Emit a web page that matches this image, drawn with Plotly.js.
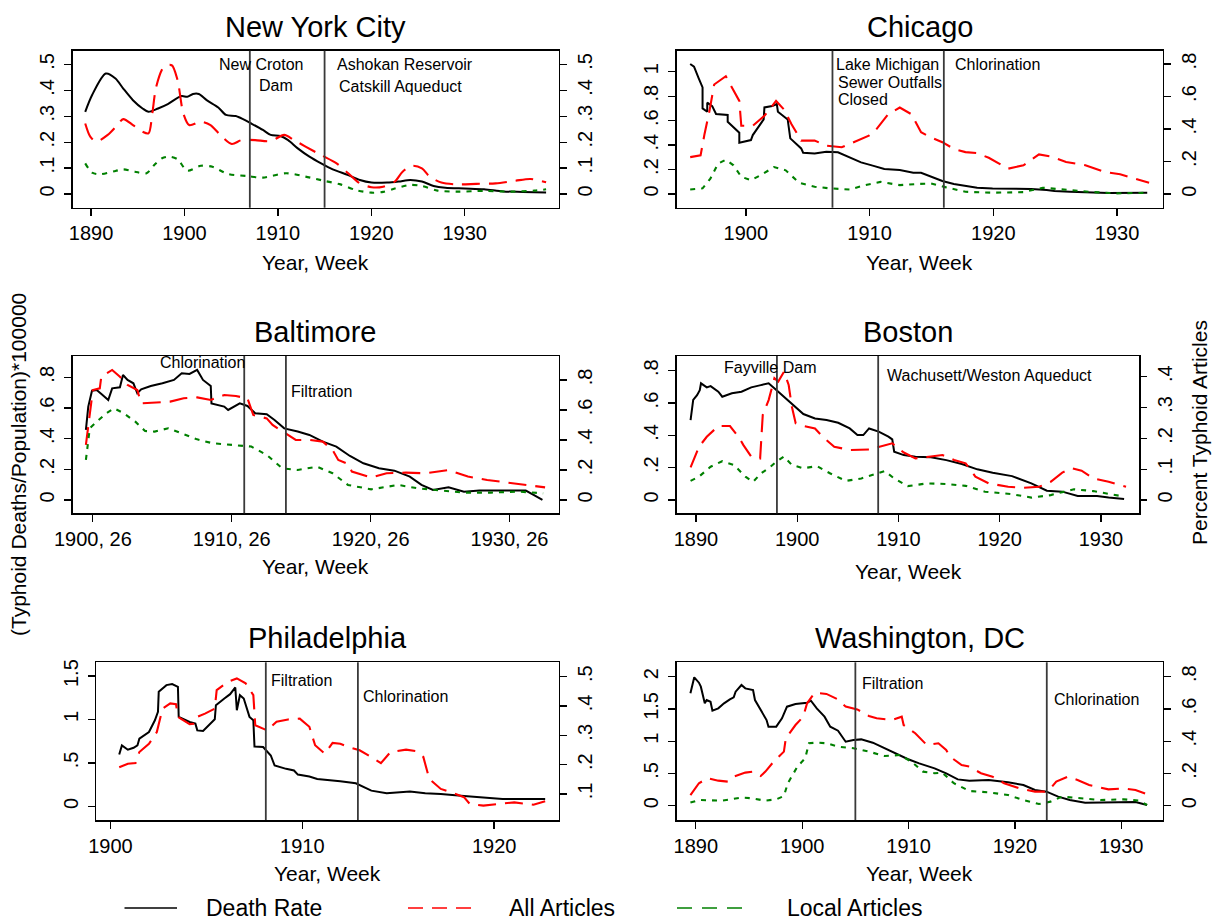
<!DOCTYPE html>
<html><head><meta charset="utf-8">
<script src="https://cdn.plot.ly/plotly-3.0.1.min.js"></script>
<style>body{margin:0;background:#fff}</style>
</head><body>
<div id="chart" style="width:1212px;height:922px"></div>
<script>
// ---------------- DATA ----------------
const nycDeathYear=[1889.38,1890.12,1891.58,1892.62,1893.45,1894.49,1895.52,1896.15,1897.18,1898.22,1899.68,1900.30,1900.92,1901.54,1902.38,1903.62,1904.45,1905.49,1906.32,1907.15,1908.40,1909.23,1910.27,1911.10,1912.13,1913.38,1914.63,1915.87,1917.53,1918.78,1920.02,1921.69,1922.93,1924.18,1925.42,1926.67,1927.92,1929.99,1932.07,1934.14,1936.22,1938.71];
const nycDeath=[.317,.382,.465,.446,.407,.362,.330,.317,.330,.347,.378,.375,.386,.386,.362,.334,.305,.301,.288,.272,.247,.228,.224,.208,.176,.144,.118,.095,.073,.054,.044,.044,.048,.054,.048,.031,.024,.021,.018,.010,.008,.006];
const nycAllYear=[1889.38,1889.92,1890.54,1891.79,1892.82,1893.45,1894.49,1895.52,1896.15,1896.56,1896.98,1897.81,1898.64,1899.26,1899.88,1900.51,1901.75,1902.79,1903.83,1905.07,1906.11,1907.57,1909.23,1910.68,1911.72,1912.96,1914.63,1916.29,1917.53,1918.78,1920.02,1921.27,1922.52,1923.35,1924.39,1925.42,1926.25,1927.50,1929.16,1931.24,1933.31,1935.39,1937.05,1938.71];
const nycAll=[.272,.221,.202,.228,.266,.289,.266,.240,.234,.311,.414,.491,.497,.440,.311,.266,.279,.266,.228,.193,.208,.208,.204,.228,.208,.183,.150,.118,.080,.041,.026,.028,.048,.086,.109,.099,.067,.044,.037,.039,.041,.051,.058,.045];
const nycLocalYear=[1889.38,1890.12,1890.96,1892.62,1893.45,1894.69,1895.94,1896.77,1897.60,1898.43,1899.26,1900.30,1901.75,1903.00,1904.66,1906.74,1908.40,1910.89,1912.96,1915.04,1916.70,1918.36,1920.02,1921.27,1922.52,1924.18,1925.42,1927.08,1929.16,1932.07,1934.98,1937.47,1938.71];
const nycLocal=[.118,.082,.076,.089,.095,.086,.080,.112,.138,.144,.134,.090,.109,.105,.077,.069,.063,.080,.067,.050,.037,.015,.005,.008,.021,.035,.031,.013,.009,.012,.009,.013,.018];

const chiDeathYear=[1895.50,1895.81,1896.19,1896.50,1896.50,1896.88,1896.88,1897.28,1897.59,1898.53,1898.53,1899.47,1899.47,1900.41,1900.56,1901.44,1901.50,1902.13,1902.50,1902.59,1903.38,1903.59,1904.47,1904.63,1905.56,1906.50,1907.44,1908.38,1909.31,1910.25,1911.19,1912.44,1913.53,1914.16,1914.94,1915.88,1916.81,1917.75,1918.69,1919.94,1921.50,1923.06,1924.31,1924.94,1926.19,1927.75,1929.31,1932.44];
const chiDeath=[1.063,1.041,.946,.872,.700,.673,.747,.719,.654,.646,.591,.501,.420,.441,.482,.610,.708,.719,.736,.673,.610,.455,.373,.338,.332,.346,.341,.300,.259,.232,.204,.196,.174,.174,.142,.106,.082,.068,.052,.046,.046,.041,.033,.025,.019,.011,.008,.011];
const chiAllYear=[1895.50,1896.34,1896.66,1897.06,1897.44,1898.38,1899.47,1899.63,1900.56,1901.50,1902.44,1903.06,1903.69,1904.47,1905.56,1906.50,1907.75,1908.69,1909.94,1910.56,1911.50,1912.44,1913.38,1914.16,1914.94,1915.88,1916.81,1917.75,1918.69,1919.63,1921.19,1922.44,1923.69,1924.63,1925.88,1927.44,1929.00,1930.25,1931.50,1932.59];
const chiAll=[.227,.238,.370,.512,.674,.725,.573,.420,.420,.481,.573,.522,.430,.329,.329,.298,.288,.319,.359,.400,.491,.532,.491,.380,.349,.319,.278,.258,.252,.223,.156,.177,.244,.231,.197,.177,.136,.122,.095,.069];
const chiLocalYear=[1895.50,1896.50,1897.13,1897.75,1898.38,1899.00,1899.63,1900.41,1901.19,1902.28,1903.22,1904.31,1905.56,1906.81,1908.38,1909.63,1910.88,1912.44,1913.69,1914.94,1916.19,1917.75,1919.94,1922.44,1924.00,1925.56,1927.75,1929.94,1932.44];
const chiLocal=[.028,.035,.095,.187,.211,.177,.106,.085,.116,.166,.146,.069,.045,.035,.028,.055,.075,.055,.061,.065,.041,.014,.008,.012,.039,.028,.014,.004,.008];

const balDeathYear=[1900.00,1900.17,1900.44,1900.78,1901.20,1901.61,1901.89,1902.45,1902.67,1903.00,1903.42,1903.70,1903.98,1904.67,1905.51,1906.34,1906.90,1907.46,1908.01,1908.43,1908.99,1909.04,1909.96,1910.24,1911.08,1911.63,1912.19,1913.02,1913.58,1914.28,1915.25,1916.09,1917.06,1918.03,1919.01,1919.98,1921.10,1922.21,1923.32,1924.16,1924.99,1926.11,1927.22,1928.33,1930.00,1931.67,1932.23,1932.87];
const balDeath=[.457,.609,.713,.717,.685,.652,.728,.735,.815,.783,.761,.696,.722,.743,.761,.783,.826,.822,.848,.783,.743,.630,.609,.587,.630,.613,.565,.559,.522,.467,.446,.424,.380,.348,.287,.239,.207,.191,.152,.098,.065,.083,.054,.061,.061,.061,.033,.000];
const balAllYear=[1900.00,1900.28,1900.50,1901.00,1901.11,1901.89,1902.45,1903.00,1903.70,1903.98,1904.95,1906.07,1907.04,1908.01,1908.99,1909.96,1910.80,1911.63,1912.05,1913.02,1913.44,1914.14,1915.11,1916.09,1917.06,1917.76,1918.17,1918.87,1919.15,1920.54,1921.65,1923.04,1924.44,1926.11,1927.50,1928.89,1930.28,1931.67,1933.06];
const balAll=[.367,.589,.733,.744,.822,.867,.822,.767,.733,.644,.649,.656,.678,.684,.667,.700,.693,.678,.567,.544,.500,.456,.400,.400,.389,.333,.267,.240,.189,.149,.178,.182,.178,.200,.156,.133,.118,.104,.084];
const balLocalYear=[1900.00,1900.28,1900.78,1901.47,1902.03,1902.73,1903.56,1904.26,1904.95,1905.93,1906.90,1908.01,1909.13,1910.52,1911.91,1913.02,1914.14,1915.25,1916.64,1917.76,1918.87,1920.54,1922.49,1923.88,1925.27,1927.22,1929.17,1931.12,1932.92];
const balLocal=[.267,.478,.522,.578,.611,.578,.522,.460,.456,.478,.444,.404,.378,.367,.356,.300,.211,.200,.222,.178,.100,.071,.100,.078,.067,.049,.049,.056,.044];

const bosDeathYear=[1889.47,1889.73,1890.11,1890.38,1890.50,1891.07,1891.45,1892.21,1892.60,1893.55,1894.50,1895.46,1896.41,1897.18,1897.94,1898.51,1899.47,1900.61,1901.76,1902.90,1904.05,1905.19,1905.95,1906.53,1907.10,1908.05,1909.01,1909.39,1909.58,1910.53,1911.68,1913.21,1914.73,1916.26,1917.79,1919.31,1921.22,1923.13,1924.66,1926.18,1927.71,1929.62,1930.76,1932.29];
const bosDeath=[.495,.619,.649,.680,.722,.697,.705,.670,.639,.660,.670,.697,.711,.722,.680,.649,.598,.532,.505,.495,.478,.443,.402,.402,.443,.423,.392,.375,.299,.278,.268,.264,.247,.223,.190,.169,.148,.103,.058,.052,.025,.025,.016,.006];
const bosAllYear=[1889.47,1890.31,1891.07,1892.21,1893.36,1894.31,1894.69,1895.46,1896.34,1896.41,1896.60,1897.18,1897.75,1898.13,1898.70,1899.16,1899.47,1899.85,1900.61,1901.76,1902.52,1903.66,1905.19,1907.10,1908.24,1909.39,1910.53,1911.68,1913.21,1914.35,1915.50,1916.64,1917.60,1918.93,1920.84,1922.37,1923.89,1925.04,1926.18,1927.14,1928.09,1929.24,1930.76,1932.48];
const bosAll=[.106,.173,.205,.240,.240,.200,.178,.141,.135,.173,.276,.324,.395,.384,.416,.373,.303,.249,.240,.232,.205,.173,.162,.164,.175,.184,.154,.135,.141,.146,.130,.119,.076,.054,.043,.040,.043,.059,.089,.103,.095,.070,.059,.043];
const bosLocalYear=[1889.47,1890.31,1891.45,1892.60,1893.74,1894.89,1895.65,1896.41,1897.37,1897.94,1898.70,1899.47,1900.61,1901.95,1903.28,1904.81,1906.34,1907.86,1908.63,1909.58,1910.92,1912.82,1914.73,1916.64,1918.55,1921.22,1923.13,1925.04,1927.33,1929.24,1932.29];
const bosLocal=[.062,.076,.108,.126,.114,.076,.059,.086,.108,.124,.141,.114,.103,.110,.086,.062,.070,.086,.094,.070,.045,.054,.052,.046,.027,.019,.008,.016,.035,.029,.011];

const phiDeathYear=[1900.46,1900.60,1900.91,1901.21,1901.41,1901.51,1902.01,1902.32,1902.48,1902.52,1902.92,1903.22,1903.52,1903.56,1904.13,1904.43,1904.53,1904.83,1905.44,1905.50,1905.94,1906.24,1906.51,1906.59,1906.75,1906.95,1907.25,1907.45,1907.51,1907.96,1908.36,1908.56,1909.16,1909.57,1909.77,1910.37,1910.78,1911.38,1911.98,1912.79,1913.60,1914.40,1915.61,1916.41,1917.22,1918.43,1919.44,1920.44,1921.65,1922.66];
const phiDeath=[.598,.702,.652,.675,.702,.779,.856,.991,1.088,1.319,1.396,1.408,1.377,1.030,.972,.953,.875,.868,1.003,1.165,1.242,1.292,1.369,1.107,1.280,1.242,1.030,.991,.690,.683,.586,.470,.432,.413,.366,.343,.316,.305,.289,.266,.181,.150,.170,.150,.143,.120,.104,.085,.085,.085];
const phiAllYear=[1900.46,1900.91,1901.31,1901.51,1902.01,1902.42,1902.72,1903.12,1903.42,1903.52,1904.13,1904.43,1904.53,1904.93,1905.44,1905.54,1906.14,1906.59,1907.05,1907.45,1907.55,1908.16,1908.66,1909.26,1909.87,1910.37,1910.67,1911.18,1911.58,1911.98,1912.39,1912.99,1913.60,1914.10,1914.60,1915.41,1915.91,1916.31,1916.62,1917.22,1917.72,1918.43,1918.73,1919.44,1920.24,1921.05,1922.05,1922.66];
const phiAll=[.191,.203,.205,.243,.271,.311,.391,.409,.406,.363,.338,.340,.363,.374,.391,.454,.483,.494,.477,.437,.334,.317,.346,.354,.357,.329,.266,.237,.274,.271,.260,.249,.226,.205,.243,.251,.246,.226,.151,.117,.106,.089,.066,.060,.066,.071,.063,.075];

const dcDeathYear=[1889.49,1889.85,1890.29,1890.47,1890.84,1891.02,1891.38,1891.56,1892.11,1892.65,1893.20,1893.56,1893.74,1894.29,1894.65,1895.38,1895.56,1896.10,1896.65,1896.83,1897.56,1898.10,1898.57,1899.37,1900.46,1900.82,1901.37,1902.10,1902.64,1903.37,1904.09,1904.82,1905.55,1906.64,1907.73,1908.82,1909.91,1911.00,1912.45,1913.54,1914.63,1915.72,1917.53,1919.35,1920.80,1921.89,1922.98,1924.07,1925.16,1926.61,1928.07,1929.88,1931.34,1932.43];
const dcDeath=[1.742,1.990,1.907,1.845,1.587,1.638,1.612,1.473,1.509,1.587,1.649,1.680,1.767,1.871,1.819,1.793,1.638,1.483,1.328,1.225,1.225,1.354,1.535,1.576,1.597,1.628,1.509,1.380,1.225,1.163,.992,1.018,1.028,.977,.889,.801,.724,.656,.579,.501,.408,.388,.398,.362,.320,.243,.217,.140,.088,.047,.052,.062,.057,.010];
const dcAllYear=[1889.49,1890.29,1891.09,1892.11,1893.01,1893.56,1894.65,1895.38,1896.10,1896.54,1897.19,1898.28,1898.46,1899.37,1900.10,1900.46,1901.19,1902.28,1903.37,1904.09,1905.18,1906.27,1907.00,1908.45,1909.36,1909.54,1910.63,1911.72,1912.81,1913.54,1913.90,1914.99,1915.72,1916.81,1917.90,1918.99,1920.44,1921.89,1922.80,1923.35,1923.89,1924.98,1925.89,1926.98,1928.79,1930.25,1931.34,1932.61];
const dcAll=[.066,.139,.170,.155,.149,.180,.205,.211,.184,.211,.263,.335,.418,.500,.552,.635,.701,.693,.659,.614,.597,.556,.542,.531,.552,.500,.449,.376,.387,.345,.304,.252,.242,.201,.180,.139,.107,.087,.087,.107,.149,.180,.159,.128,.101,.107,.097,.066];
const dcLocalYear=[1889.49,1890.29,1892.47,1894.29,1895.38,1896.47,1897.56,1898.28,1898.65,1899.55,1900.28,1900.64,1901.37,1902.28,1903.37,1904.82,1906.27,1907.73,1909.18,1910.27,1911.36,1912.45,1913.17,1914.26,1915.72,1917.53,1919.35,1920.80,1922.26,1923.35,1924.43,1926.25,1928.07,1930.25,1931.70,1932.43];
const dcLocal=[.019,.035,.031,.050,.045,.031,.039,.060,.139,.242,.294,.387,.391,.387,.366,.356,.335,.308,.314,.273,.211,.201,.205,.139,.091,.083,.066,.035,.010,.025,.056,.045,.035,.039,.031,.004];

const cityNames=["New York City","Chicago","Baltimore","Boston","Philadelphia","Washington, DC"];
const eventYears=[[1907,1915],[1907,1916],[1911.4,1914.4],[1898,1908],[1908.1,1912.9],[1905,1923]];
const eventLabels=[
  [["New Croton",1908.17],["Dam",1909.78],["Ashokan Reservoir",1923.56],["Catskill Aqueduct",1923.15]],
  [["Lake Michigan",1911.45],["Sewer Outfalls",1911.67],["Closed",1909.43],["Chlorination",1920.3]],
  [["Chlorination",1908.36],["Filtration",1916.93]],
  [["Fayville Dam",1897.29],["Wachusett/Weston Aqueduct",1919.03]],
  [["Filtration",1909.94],["Chlorination",1915.39]],
  [["Filtration",1908.45],["Chlorination",1927.63]]
];
const leftTickVals=[[0,.1,.2,.3,.4,.5],[0,.2,.4,.6,.8,1],[0,.2,.4,.6,.8],[0,.2,.4,.6,.8],[0,.5,1,1.5],[0,.5,1,1.5,2]];
const leftTickText=[["0",".1",".2",".3",".4",".5"],["0",".2",".4",".6",".8","1"],["0",".2",".4",".6",".8"],["0",".2",".4",".6",".8"],["0",".5","1","1.5"],["0",".5","1","1.5","2"]];
const rightTickVals=[[0,.1,.2,.3,.4,.5],[0,.2,.4,.6,.8],[0,.2,.4,.6,.8],[0,.1,.2,.3,.4],[.1,.2,.3,.4,.5],[0,.2,.4,.6,.8]];
const rightTickText=[["0",".1",".2",".3",".4",".5"],["0",".2",".4",".6",".8"],["0",".2",".4",".6",".8"],["0",".1",".2",".3",".4"],[".1",".2",".3",".4",".5"],["0",".2",".4",".6",".8"]];
const xTickVals=[[1890,1900,1910,1920,1930],[1900,1910,1920,1930],[1900.5,1910.5,1920.5,1930.5],[1890,1900,1910,1920,1930],[1900,1910,1920],[1890,1900,1910,1920,1930]];
const xTickText=[["1890","1900","1910","1920","1930"],["1900","1910","1920","1930"],["1900, 26","1910, 26","1920, 26","1930, 26"],["1890","1900","1910","1920","1930"],["1900","1910","1920"],["1890","1900","1910","1920","1930"]];
const seriesNames=["Death Rate","All Articles","Local Articles"];

// ---------------- LAYOUT / STYLE ----------------
const W=1212,H=922;
const px=v=>v/W, py=v=>1-v/H;
const FONT="Liberation Sans, Arial, Helvetica, sans-serif";
const panels=[
 {x:[72.7,558.7],y:[50.7,207.7],xr:[1888.04,1940.06],yl:[-0.053,0.553],yr:[-0.053,0.553],title:26.7,xlab:262,ev:[65,85,65,86],spline:true,
  data:[[nycDeathYear,nycDeath],[nycAllYear,nycAll],[nycLocalYear,nycLocal]]},
 {x:[676.7,1162.7],y:[50.7,207.7],xr:[1894.41,1933.69],yl:[-0.112,1.172],yr:[-0.084,0.882],title:26.7,xlab:262,ev:[64.3,82.3,100,65],
  data:[[chiDeathYear,chiDeath],[chiAllYear,chiAll],[chiLocalYear,chiLocal]]},
 {x:[72.7,558.7],y:[356,513.3],xr:[1899.05,1934.04],yl:[-0.087,0.939],yr:[-0.089,0.96],title:332.3,xlab:566.7,ev:[362,391],
  data:[[balDeathYear,balDeath],[balAllYear,balAll],[balLocalYear,balLocal]]},
 {x:[676.7,1139.4],y:[356,513.3],xr:[1888.1,1933.8],yl:[-0.082,0.891],yr:[-0.043,0.467],title:332.3,xlab:571.7,ev:[367.3,375],
  data:[[bosDeathYear,bosDeath],[bosAllYear,bosAll],[bosLocalYear,bosLocal]]},
 {x:[96,558.6],y:[662.3,820],xr:[1899.25,1923.36],yl:[-0.157,1.659],yr:[0.011,0.549],title:638.3,xlab:873.3,ev:[680,696],
  data:[[phiDeathYear,phiDeath],[phiAllYear,phiAll]]},
 {x:[676.7,1162.7],y:[662.3,820],xr:[1888.2,1933.9],yl:[-0.222,2.223],yr:[-0.089,0.889],title:638.3,xlab:873.3,ev:[683.3,699.3],
  data:[[dcDeathYear,dcDeath],[dcAllYear,dcAll],[dcLocalYear,dcLocal]]}
];
const styles=[
 {color:"#000000",width:2,dash:"solid"},
 {color:"#ff0000",width:2.1,dash:"18px,9px"},
 {color:"#008000",width:2.1,dash:"5px,6px"}
];
const traces=[];
const layout={width:W,height:H,margin:{l:0,r:0,t:0,b:0},paper_bgcolor:"#fff",plot_bgcolor:"#fff",
  showlegend:false,font:{family:FONT,color:"#000",size:20},annotations:[],shapes:[]};
const tickFont={family:FONT,size:20,color:"#000"};
panels.forEach((p,i)=>{
  const n=i+1;
  const xk=n===1?"x":"x"+n, yl=2*n-1, yr=2*n;
  const ylk=yl===1?"y":"y"+yl, yrk="y"+yr;
  layout[n===1?"xaxis":"xaxis"+n]={domain:[px(p.x[0]),px(p.x[1])],range:p.xr,anchor:ylk,
    tickmode:"array",tickvals:xTickVals[i],ticktext:xTickText[i],ticks:"outside",ticklen:7,tickwidth:1.3,tickcolor:"#000",
    showline:true,linecolor:"#000",linewidth:1.5,mirror:true,showgrid:false,zeroline:false,tickfont:tickFont,ticklabelstandoff:0};
  layout[yl===1?"yaxis":"yaxis"+yl]={domain:[py(p.y[1]),py(p.y[0])],range:p.yl,anchor:xk,side:"left",
    tickmode:"array",tickvals:leftTickVals[i],ticktext:leftTickText[i],tickangle:-90,ticks:"outside",ticklen:7,tickwidth:1.3,tickcolor:"#000",
    showline:true,linecolor:"#000",linewidth:1.5,mirror:true,showgrid:false,zeroline:false,tickfont:tickFont,ticklabelstandoff:2};
  layout["yaxis"+yr]={domain:[py(p.y[1]),py(p.y[0])],range:p.yr,anchor:xk,side:"right",overlaying:ylk,
    tickmode:"array",tickvals:rightTickVals[i],ticktext:rightTickText[i],tickangle:-90,ticks:"outside",ticklen:7,tickwidth:1.3,tickcolor:"#000",
    showline:false,showgrid:false,zeroline:false,tickfont:tickFont,ticklabelstandoff:1};
  p.data.forEach((d,k)=>{
    const s=styles[k];
    traces.push({type:"scatter",mode:"lines",x:d[0],y:d[1],name:seriesNames[k],xaxis:xk,yaxis:k===0?ylk:yrk,
      line:{color:s.color,width:s.width,dash:s.dash,shape:p.spline?"spline":"linear",smoothing:0.8},hoverinfo:"skip"});
  });
  eventYears[i].forEach(ev=>{
    layout.shapes.push({type:"line",xref:xk,yref:ylk+" domain",x0:ev,x1:ev,y0:0,y1:1,line:{color:"#3a3a3a",width:1.8}});
  });
  eventLabels[i].forEach((e,j)=>{
    layout.annotations.push({text:e[0],x:e[1],xref:xk,y:py(p.ev[j]),yref:"paper",showarrow:false,xanchor:"center",yanchor:"middle",
      font:{family:FONT,size:16,color:"#000"}});
  });
  const cx=(p.x[0]+p.x[1])/2;
  layout.annotations.push({text:cityNames[i],x:px(cx),y:py(p.title),xref:"paper",yref:"paper",showarrow:false,xanchor:"center",yanchor:"middle",
    font:{family:FONT,size:29,color:"#000"}});
  layout.annotations.push({text:"Year, Week",x:px(cx),y:py(p.xlab),xref:"paper",yref:"paper",showarrow:false,xanchor:"center",yanchor:"middle",
    font:{family:FONT,size:21,color:"#000"}});
});
// global axis titles
layout.annotations.push({text:"(Typhoid Deaths/Population)*100000",x:px(18),y:py(465),xref:"paper",yref:"paper",textangle:-90,showarrow:false,
  xanchor:"center",yanchor:"middle",font:{family:FONT,size:21,color:"#000"}});
layout.annotations.push({text:"Percent Typhoid Articles",x:px(1199),y:py(433),xref:"paper",yref:"paper",textangle:-90,showarrow:false,
  xanchor:"center",yanchor:"middle",font:{family:FONT,size:21,color:"#000"}});
// legend
const legend=[{x0:124.5,x1:177,tx:203.8,style:0,text:"Death Rate",dash:"solid"},
              {x0:408,x1:476,tx:507,style:1,text:"All Articles",dash:"15px,9px"},
              {x0:677,x1:751,tx:784.6,style:2,text:"Local Articles",dash:"15px,10px"}];
legend.forEach(l=>{
  layout.shapes.push({type:"line",xref:"paper",yref:"paper",x0:px(l.x0),x1:px(l.x1),y0:py(908),y1:py(908),
    line:{color:styles[l.style].color,width:1.6,dash:l.dash}});
  layout.annotations.push({text:l.text,x:px(l.tx),y:py(908),xref:"paper",yref:"paper",showarrow:false,xanchor:"left",yanchor:"middle",
    font:{family:FONT,size:23,color:"#000"}});
});
Plotly.newPlot("chart",traces,layout,{staticPlot:true,displayModeBar:false});
</script>
</body></html>
